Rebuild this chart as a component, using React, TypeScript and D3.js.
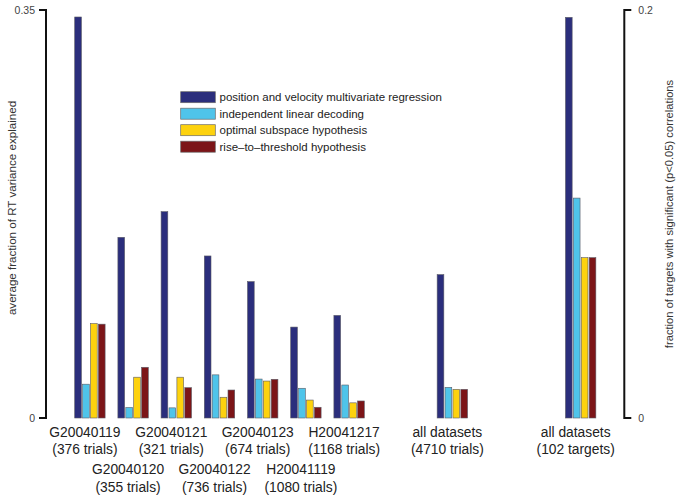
import React from 'react';
import * as d3 from 'd3';

// datasets shown against the left axis (last one is the pooled "all datasets")
const datasetNames = [
  'G20040119', 'G20040120', 'G20040121', 'G20040122',
  'G20040123', 'H20041119', 'H20041217', 'all datasets',
];
const datasetCounts = [
  '(376 trials)', '(355 trials)', '(321 trials)', '(736 trials)',
  '(674 trials)', '(1080 trials)', '(1168 trials)', '(4710 trials)',
];

const seriesNames = [
  'position and velocity multivariate regression',
  'independent linear decoding',
  'optimal subspace hypothesis',
  'rise\u2013to\u2013threshold hypothesis',
];

// average fraction of RT variance explained
const regressionValues = [0.344, 0.155, 0.177, 0.139, 0.117, 0.078, 0.088, 0.123];
const independentValues = [0.029, 0.009, 0.0087, 0.037, 0.0334, 0.0255, 0.0283, 0.0263];
const optimalValues = [0.081, 0.035, 0.035, 0.0178, 0.0317, 0.0154, 0.013, 0.0246];
const riseValues = [0.0805, 0.0435, 0.026, 0.024, 0.0332, 0.0092, 0.0146, 0.0246];

// fraction of targets with significant correlations (right axis)
const targetsLabel = 'all datasets';
const targetsCount = '(102 targets)';
const targetFractions = [0.1964, 0.1078, 0.0786, 0.0786];

const leftTicks = [0, 0.35];
const rightTicks = [0, 0.2];

const colors = ['#2b2e7c', '#4fc4ea', '#fdd20e', '#7c1518'];

// horizontal slot of each group (the two pooled groups are set apart)
const groupSlots = [1, 2, 3, 4, 5, 6, 7, 9.39, 12.36];

const W = 679;
const H = 500;
const FONT = '"Liberation Sans", Arial, Helvetica, sans-serif';

const App: React.FC = () => {
  const x = d3.scaleLinear().domain([1, 7]).range([89.9, 349.1]);
  const inner = d3.scaleBand<number>()
    .domain([0, 1, 2, 3])
    .range([-15.2, 15.2])
    .paddingInner(0.152)
    .paddingOuter(0);
  const yLeft = d3.scaleLinear().domain([0, 0.35]).range([418, 10]);
  const yRight = d3.scaleLinear().domain([0, 0.2]).range([418, 10]);

  const leftSeries = [regressionValues, independentValues, optimalValues, riseValues];

  type Bar = { key: string; cx: number; s: number; top: number };
  const bars: Bar[] = [];
  datasetNames.forEach((_, i) => {
    leftSeries.forEach((vals, s) => {
      bars.push({ key: `l${i}-${s}`, cx: x(groupSlots[i]), s, top: yLeft(vals[i]) });
    });
  });
  targetFractions.forEach((v, s) => {
    bars.push({ key: `r-${s}`, cx: x(groupSlots[8]), s, top: yRight(v) });
  });

  const labels = [
    ...datasetNames.map((n, i) => ({ name: n, count: datasetCounts[i], slot: groupSlots[i], low: i < 7 && i % 2 === 1 })),
    { name: targetsLabel, count: targetsCount, slot: groupSlots[8], low: false },
  ];

  const xl = 46;
  const xr = 624.3;

  return (
    <svg width={W} height={H} style={{ position: 'absolute', left: 0, top: 0, background: '#fff' }} fontFamily={FONT}>
      <rect width={W} height={H} fill="#fff" />

      {/* bars */}
      {bars.map(b => (
        <rect
          key={b.key}
          x={b.cx + (inner(b.s) || 0)}
          y={b.top}
          width={inner.bandwidth()}
          height={418 - b.top}
          fill={colors[b.s]}
          stroke="#5a5a66"
          strokeWidth={0.6}
        />
      ))}

      {/* left axis */}
      <path d={`M${xl - 7},${yLeft(0.35)}H${xl}V${yLeft(0)}H${xl - 7}`} fill="none" stroke="#111" strokeWidth={2} />
      {leftTicks.map(t => (
        <text key={t} x={xl - 11} y={yLeft(t)} dy="0.35em" textAnchor="end" fontSize={10.5} fill="#444">{t}</text>
      ))}
      <text transform={`translate(16,208) rotate(-90)`} textAnchor="middle" fontSize={11.6} fill="#333">
        average fraction of RT variance explained
      </text>

      {/* right axis */}
      <path d={`M${xr + 7},${yRight(0.2)}H${xr}V${yRight(0)}H${xr + 7}`} fill="none" stroke="#111" strokeWidth={2} />
      {rightTicks.map(t => (
        <text key={t} x={xr + 14} y={yRight(t)} dy="0.35em" textAnchor="start" fontSize={10.5} fill="#444">{t}</text>
      ))}
      <text transform={`translate(672.5,214) rotate(-90)`} textAnchor="middle" fontSize={11.2} fill="#333">
        fraction of targets with significant (p&lt;0.05) correlations
      </text>

      {/* legend */}
      {seriesNames.map((n, i) => (
        <g key={n} transform={`translate(180.7,${91.7 + i * 16.5})`}>
          <rect width={34.6} height={11} fill={colors[i]} stroke="#6a6a6a" strokeWidth={0.7} />
          <text x={38.8} y={5.5} dy="0.36em" fontSize={11.5} fill="#222">{n}</text>
        </g>
      ))}

      {/* group labels */}
      {labels.map(l => (
        <text key={l.name + l.count} x={x(l.slot) - 5} y={l.low ? 474.3 : 436.7} textAnchor="middle" fontSize={13.8} fill="#222">
          <tspan x={x(l.slot) - 5}>{l.name}</tspan>
          <tspan x={x(l.slot) - 5} dy={17.4}>{l.count}</tspan>
        </text>
      ))}
    </svg>
  );
};

export default App;
